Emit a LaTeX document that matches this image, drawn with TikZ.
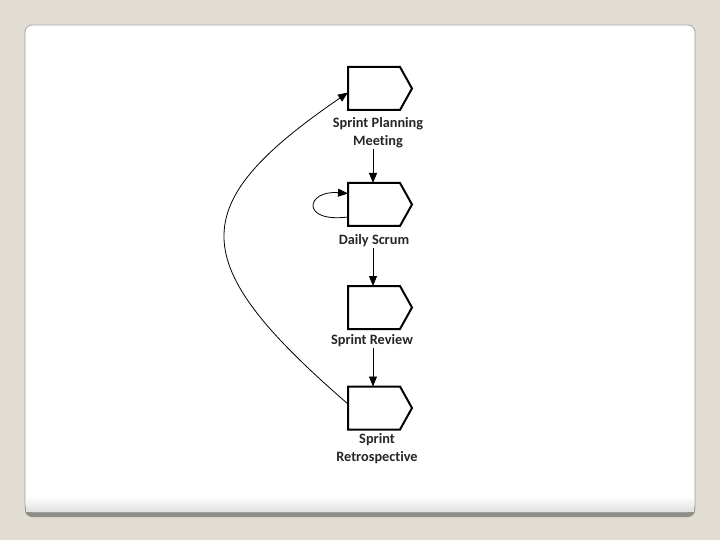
\documentclass[tikz,border=0pt]{standalone}
\usepackage{fontspec}
\setmainfont{Carlito}[Ligatures=NoCommon]
\usetikzlibrary{arrows.meta,calc}
\definecolor{bgbeige}{HTML}{E2DDD3}
\definecolor{cardedge}{HTML}{A3A3A0}
\definecolor{shadowgray}{HTML}{8E8E8A}
\tikzset{
  stagebox/.style={minimum width=64pt,minimum height=43pt,inner sep=0pt,outer sep=0pt},
  stageline/.style={line width=2pt,line join=miter},
  stagelabel/.style={font=\fontsize{14.3}{18}\selectfont\bfseries,align=center,inner sep=1pt,text=black!85},
  conn/.style={line width=0.8pt,-{Triangle[length=10pt,width=8pt]}},
}
\begin{document}
\begin{tikzpicture}[x=1pt,y=-1pt]
\useasboundingbox (0,0) rectangle (720,540);
\fill[bgbeige] (0,0) rectangle (720,540);
% card with bottom shadow
\fill[shadowgray,rounded corners=7pt] (25,26) rectangle (695,517);
\filldraw[fill=white,draw=cardedge,line width=0.8pt,rounded corners=7pt] (25,25) rectangle (695,512);
\shade[top color=white,bottom color=black!12] (26,496) rectangle (694,511.5);

% stages
\node[stagebox] (s1) at (380,88.5) {};
\node[stagebox] (s2) at (380,204.5) {};
\node[stagebox] (s3) at (380,307.5) {};
\node[stagebox] (s4) at (380,408) {};
\foreach \s in {s1,s2,s3,s4}{
  \draw[stageline] (\s.north west) -- ([xshift=-12pt]\s.north east) -- (\s.east)
     -- ([xshift=-12pt]\s.south east) -- (\s.south west) -- cycle;
}

% labels
\node[stagelabel] (l1) at (378,133) {Sprint Planning\\Meeting};
\node[stagelabel] (l2) at (374,241) {Daily Scrum};
\node[stagelabel] (l3) at (372,341) {Sprint Review};
\node[stagelabel] (l4) at (377,449) {Sprint\\Retrospective};

% connectors
\draw[conn] ([xshift=-5pt]l1.south) -- ([xshift=-7pt]s2.north);
\draw[conn] ([xshift=-1pt]l2.south) -- ([xshift=-7pt]s3.north);
\draw[conn] ([xshift=1pt]l3.south) -- ([xshift=-7pt]s4.north);
\draw[conn] ([yshift=-12.5pt]s2.west) .. controls (300,223) and (306,190) .. ([yshift=11pt]s2.west);
\draw[conn] ([yshift=4pt]s4.west) .. controls (184,262) and (184,205) .. ([yshift=-4pt]s1.west);
\end{tikzpicture}
\end{document}
